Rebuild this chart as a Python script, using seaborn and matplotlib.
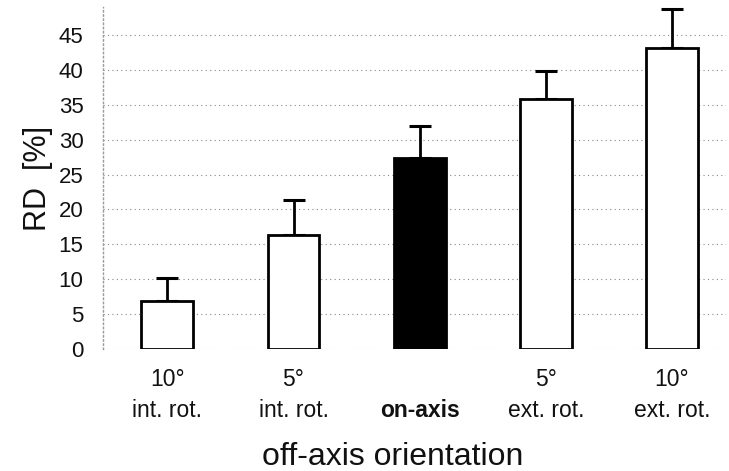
import matplotlib
matplotlib.use("Agg")
import matplotlib.pyplot as plt
import seaborn as sns
import pandas as pd
import numpy as np

categories = ["10°\nint. rot.", "5°\nint. rot.", "\non-axis", "5°\next. rot.", "10°\next. rot."]
means = [6.9, 16.3, 27.4, 35.8, 43.1]
sd_upper = [3.3, 5.0, 4.6, 4.0, 5.6]
bar_colors = ["white", "white", "black", "white", "white"]
yticks = [0, 5, 10, 15, 20, 25, 30, 35, 40, 45]

sns.set_theme(style="white")
plt.rcParams['font.family'] = ['Liberation Sans', 'DejaVu Sans']

df = pd.DataFrame({"cat": categories, "RD": means})

fig = plt.figure(figsize=(7.29, 4.71), dpi=100)
ax = fig.add_axes([0.1413, 0.259, 0.855, 0.726])

sns.barplot(data=df, x="cat", y="RD", hue="cat", palette=bar_colors,
            width=0.41, edgecolor="black", linewidth=2.0, errorbar=None,
            legend=False, ax=ax, zorder=3)

x = np.arange(len(categories))
ax.errorbar(x, means, yerr=[np.zeros(len(means)), sd_upper], fmt="none",
            ecolor="black", elinewidth=2.0, capsize=8, capthick=2.2,
            zorder=2, clip_on=False)

ax.set_xlim(-0.51, 4.43)
ax.set_ylim(0, 49)
ax.set_yticks(yticks)
ax.set_yticklabels([str(v) for v in yticks], fontsize=16)
ax.yaxis.grid(True, linestyle=(0, (1, 3)), color="#888888", linewidth=0.8)
ax.set_axisbelow(True)

ax.tick_params(axis="y", length=0, pad=14, labelsize=16, colors="#111111")
ax.tick_params(axis="x", length=0, pad=14, labelsize=16.5, colors="#111111")
for lab in ax.get_xticklabels():
    lab.set_linespacing(1.4)
    if "on-axis" in lab.get_text():
        lab.set_fontweight("bold")

for s in ["top", "right", "bottom"]:
    ax.spines[s].set_visible(False)
ax.spines["left"].set_color("#999999")
ax.spines["left"].set_linestyle((0, (1, 2)))
ax.spines["left"].set_linewidth(1.0)

ax.set_xlabel("off-axis orientation", fontsize=23, color="#111111")
ax.xaxis.set_label_coords(0.465, -0.272)
ax.set_ylabel("RD  [%]", fontsize=22, labelpad=4, color="#111111")

fig.savefig("out.png", dpi=100)
